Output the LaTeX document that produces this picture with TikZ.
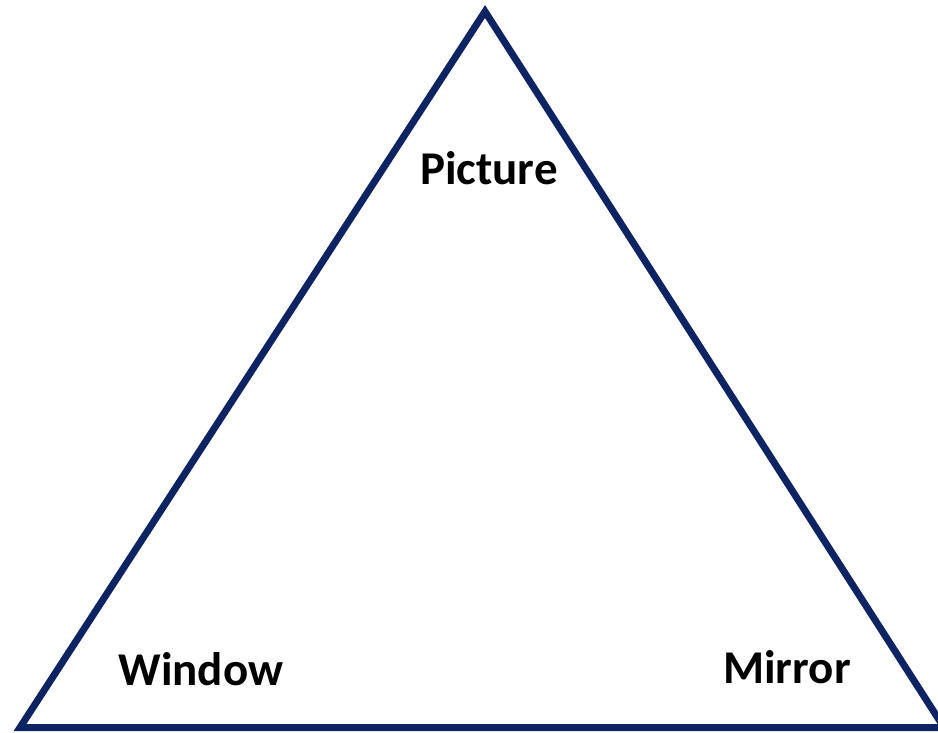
\documentclass[tikz,border=0pt]{standalone}
\usepackage{fontspec}
\setmainfont{Carlito}
\definecolor{navy}{RGB}{14,35,97}
\tikzset{
  edge/.style={draw=navy, line width=7pt, line join=miter},
  lbl/.style={font=\fontsize{47}{50}\selectfont\bfseries, text=black, anchor=base, inner sep=0pt}
}
\begin{document}
\begin{tikzpicture}[x=1pt,y=1pt]
\useasboundingbox (0,0) rectangle (938,732);
\begin{scope}
\clip (0,0) rectangle (938,732);
\coordinate (top) at (485,720.5);
\coordinate (bl) at (20,4.5);
\coordinate (br) at (944,4.5);
\draw[edge] (top) -- (bl) -- (br) -- cycle;
\end{scope}
\node[lbl] (picture) at (489,547) {Picture};
\node[lbl] (window) at (201,47) {Window};
\node[lbl] (mirror) at (787,49) {Mirror};
\end{tikzpicture}
\end{document}
